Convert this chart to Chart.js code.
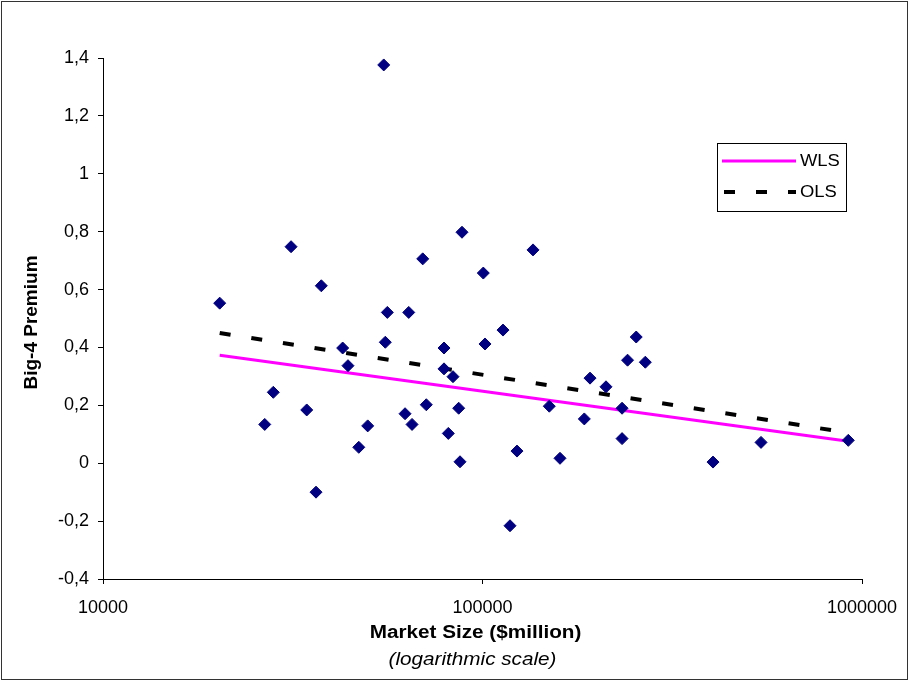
<!DOCTYPE html>
<html>
<head>
<meta charset="utf-8">
<script src="https://cdn.jsdelivr.net/npm/chart.js@4"></script>
<style>
  html, body { margin: 0; padding: 0; background: #fff; }
  canvas { display: block; }
</style>
</head>
<body>
<canvas id="chart" width="909" height="681"></canvas>
<script>
// market size ($million) and Big-4 premium, one entry per country
var marketSize = [20300, 26680, 28100, 31300, 34420, 36420, 37610, 42810, 44210, 47210,
                  49830, 54920, 55450, 56130, 62500, 63920, 65210, 69580, 71110, 79170,
                  79170, 81260, 83610, 86550, 87240, 88300, 100490, 101530, 113250, 118160,
                  123280, 135870, 149970, 160030, 185480, 192010, 211550, 233200, 233200, 241110,
                  254150, 268570, 404940, 541900, 920200];
var premium = [0.553, 0.134, 0.245, 0.748, 0.184, -0.100, 0.613, 0.398, 0.337, 0.055,
               0.129, 1.376, 0.418, 0.521, 0.171, 0.521, 0.134, 0.706, 0.202, 0.398,
               0.326, 0.103, 0.299, 0.190, 0.005, 0.798, 0.657, 0.412, 0.460, -0.216,
               0.042, 0.737, 0.197, 0.017, 0.153, 0.294, 0.264, 0.190, 0.085, 0.356,
               0.436, 0.349, 0.004, 0.072, 0.079];

// fitted lines, read at both ends
var wlsX = [20300, 920200];
var wlsY = [0.373, 0.076];
var olsX = [20300, 920200];
var olsY = [0.450, 0.105];

var xTicks = [10000, 100000, 1000000];
var yMin = -0.4, yMax = 1.4, yStep = 0.2;

var FONT = '"Liberation Sans", Arial, sans-serif';

function toPoints(xs, ys) {
    return xs.map(function (x, i) { return { x: x, y: ys[i] }; });
}

// the original text is a bit wider than plain Arial
function wideText(ctx, text, x, y, font, align, sx) {
    ctx.save();
    ctx.translate(x, y);
    ctx.scale(sx, 1);
    ctx.font = font;
    ctx.textAlign = align;
    ctx.textBaseline = 'middle';
    ctx.fillStyle = '#000';
    ctx.fillText(text, 0, 0);
    ctx.restore();
}

var extras = {
    id: 'extras',
    afterDraw: function (chart) {
        var ctx = chart.ctx;
        var area = chart.chartArea;

        // frame round the whole picture
        ctx.save();
        ctx.strokeStyle = '#333';
        ctx.lineWidth = 1;
        ctx.strokeRect(1.5, 1.5, chart.width - 3, chart.height - 3);
        ctx.restore();

        // axis titles
        var cx = (area.left + area.right) / 2 - 7;
        wideText(ctx, 'Market Size ($million)', cx, 633, 'bold 18px ' + FONT, 'center', 1.15);
        wideText(ctx, '(logarithmic scale)', cx - 3, 660, 'italic 18px ' + FONT, 'center', 1.15);

        ctx.save();
        ctx.translate(32, (area.top + area.bottom) / 2 + 4);
        ctx.rotate(-Math.PI / 2);
        ctx.font = 'bold 19px ' + FONT;
        ctx.textAlign = 'center';
        ctx.textBaseline = 'middle';
        ctx.fillStyle = '#000';
        ctx.fillText('Big-4 Premium', 0, 0);
        ctx.restore();

        // legend box
        ctx.save();
        ctx.fillStyle = '#fff';
        ctx.fillRect(717.5, 143.5, 129, 68);
        ctx.strokeStyle = '#000';
        ctx.lineWidth = 1;
        ctx.strokeRect(717.5, 143.5, 129, 68);
        var sets = chart.data.datasets.slice(1);
        sets.forEach(function (d, i) {
            var y = 161 + i * 31;
            ctx.beginPath();
            ctx.strokeStyle = d.borderColor;
            ctx.lineWidth = d.borderWidth;
            ctx.setLineDash(d.borderDash || []);
            ctx.moveTo(d.borderDash ? 724 : 722, y);
            ctx.lineTo(796, y);
            ctx.stroke();
            ctx.setLineDash([]);
            wideText(ctx, d.label, 800, y + 1, '16px ' + FONT, 'left', 1.15);
        });
        ctx.restore();
    }
};

new Chart(document.getElementById('chart').getContext('2d'), {
    type: 'scatter',
    data: {
        datasets: [{
            label: 'Countries',
            data: toPoints(marketSize, premium),
            pointStyle: 'rectRot',
            pointRadius: 6,
            backgroundColor: '#000080',
            borderColor: '#000080',
            borderWidth: 1
        }, {
            label: 'WLS',
            data: toPoints(wlsX, wlsY),
            showLine: true,
            borderColor: '#ff00ff',
            borderWidth: 3,
            pointRadius: 0
        }, {
            label: 'OLS',
            data: toPoints(olsX, olsY),
            showLine: true,
            borderColor: '#000000',
            borderWidth: 4,
            borderDash: [11, 21],
            pointRadius: 0
        }]
    },
    options: {
        responsive: false,
        animation: false,
        layout: { padding: { top: 58, right: 47, left: 0, bottom: 0 } },
        plugins: {
            legend: { display: false },
            tooltip: { enabled: false }
        },
        scales: {
            x: {
                type: 'logarithmic',
                min: xTicks[0],
                max: xTicks[xTicks.length - 1],
                afterBuildTicks: function (scale) {
                    scale.ticks = xTicks.map(function (v) { return { value: v }; });
                },
                afterFit: function (scale) {
                    scale.height = 102;
                    scale.paddingLeft = 0;
                    scale.paddingRight = 0;
                },
                ticks: {
                    autoSkip: false,
                    maxRotation: 0,
                    padding: 13,
                    color: '#000',
                    font: { family: FONT, size: 18 },
                    callback: function (value) { return String(value); }
                },
                grid: { drawOnChartArea: false, drawTicks: true, tickLength: 5, color: '#000' },
                border: { display: true, color: '#000', width: 1 }
            },
            y: {
                min: yMin,
                max: yMax,
                afterFit: function (scale) {
                    scale.width = 103;
                    scale.paddingTop = 0;
                    scale.paddingBottom = 0;
                },
                ticks: {
                    stepSize: yStep,
                    padding: 9,
                    color: '#000',
                    font: { family: FONT, size: 18 },
                    callback: function (value) {
                        var v = Math.round(value * 10) / 10;
                        return String(v).replace('.', ',');
                    }
                },
                grid: { drawOnChartArea: false, drawTicks: true, tickLength: 5, color: '#000' },
                border: { display: true, color: '#000', width: 1 }
            }
        }
    },
    plugins: [extras]
});
</script>
</body>
</html>
